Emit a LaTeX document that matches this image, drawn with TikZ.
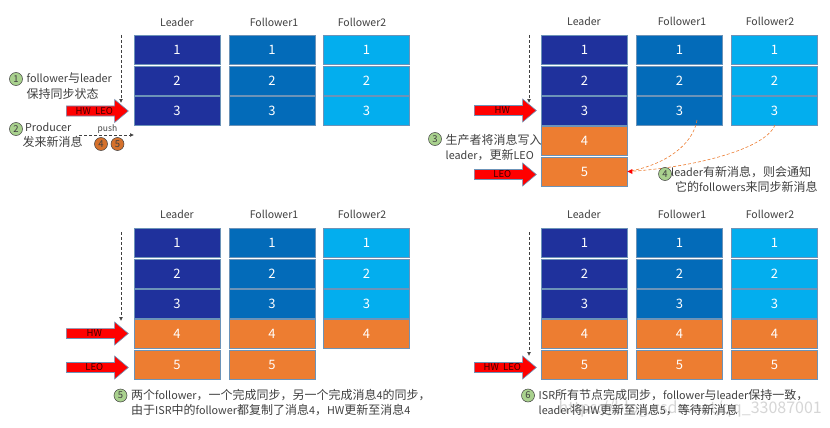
\documentclass[tikz,border=0pt]{standalone}
\usepackage{fontspec}
\setmainfont{Noto Sans CJK SC}
\newfontfamily\zhfont{Noto Sans CJK SC}
\newcommand{\zh}[1]{{\fontsize{12}{14}\zhfont #1}}
\usetikzlibrary{shapes.arrows, arrows.meta}
\definecolor{leadercol}{HTML}{1F319C}
\definecolor{followacol}{HTML}{036BB9}
\definecolor{followbcol}{HTML}{03AEEE}
\definecolor{newcol}{HTML}{ED7D31}
\definecolor{edgecol}{HTML}{6C93B8}
\definecolor{stepcol}{HTML}{A9D18E}
\definecolor{inkcol}{HTML}{404040}
\tikzset{
    msgbox/.style={draw=edgecol, line width=0.6pt, minimum width=86pt, minimum height=29pt, inner sep=0pt, text=white, font=\fontsize{13}{13}\selectfont},
    colhead/.style={text=inkcol, font=\fontsize{10.5}{12}\selectfont},
    notetext/.style={text=inkcol, align=left, anchor=west, inner sep=0pt, font=\fontsize{10.8}{15.5}\selectfont},
    markarrow/.style={single arrow, anchor=tail, draw=edgecol, fill=red, line width=0.6pt, minimum width=23pt, minimum height=62pt, single arrow head extend=5pt, single arrow tip angle=80, inner sep=0pt, text=black!75!red, font=\fontsize{9.5}{10}\selectfont},
    stepnum/.style={circle, draw=inkcol, fill=stepcol, line width=0.5pt, minimum size=13pt, inner sep=0pt, text=inkcol, font=\fontsize{9.5}{10}\selectfont},
    msgnum/.style={circle, draw=inkcol, fill=newcol!90!black, line width=0.5pt, minimum size=13pt, inner sep=0pt, text=inkcol, font=\fontsize{9.5}{10}\selectfont},
    topdash/.style={densely dashed, draw=inkcol, line width=0.7pt, -{Latex[length=4pt,width=4pt]}},
    notifyline/.style={densely dashed, draw=newcol, line width=0.6pt}
}
\begin{document}
\begin{tikzpicture}[x=1pt, y=-1pt]
    \useasboundingbox (0,0) rectangle (830,428);
    \fill[white] (0,0) rectangle (830,428);

    % Watermark
    \node[text=black!16, inner sep=0pt, font=\fontsize{16}{18}\selectfont, anchor=east] (mark) at (822,409.5) {https://blog.csdn.net/qq\_33087001};

    % Panel 1 - in sync
    \node[colhead] (aLead) at (177,22) {Leader};
    \node[colhead] (aFola) at (274,22) {Follower1};
    \node[colhead] (aFolb) at (362,22) {Follower2};
    \foreach \n/\y in {1/50, 2/81, 3/110.5} {
        \node[msgbox, fill=leadercol] (aL\n) at (177,\y) {\n};
        \node[msgbox, fill=followacol] (aA\n) at (272,\y) {\n};
        \node[msgbox, fill=followbcol] (aB\n) at (366.5,\y) {\n};
    }
    \node[markarrow] (aMark) at (66,111) {HW\ \ LEO};
    \coordinate (aTop) at (121,35);
    \coordinate (aEnd) at (121,103);
    \draw[topdash] (aTop) -- (aEnd);
    \node[stepnum] (aStepa) at (16,79) {1};
    \node[notetext] (aNotea) at (26.5,86) {follower\zh{与}leader\\\zh{保持同步状态}};
    \node[stepnum] (aStepb) at (16,129) {2};
    \node[notetext] (aNoteb) at (22.5,135) {\ Producer\\\zh{发来新消息}};
    \coordinate (aPusha) at (79,135);
    \coordinate (aPushb) at (134,135);
    \draw[topdash] (aPusha) -- (aPushb);
    \node[font=\fontsize{8.5}{9}\selectfont, text=inkcol, inner sep=0pt] (aPush) at (107.5,129) {push};
    \node[msgnum] (aNewa) at (101,144) {4};
    \node[msgnum] (aNewb) at (117.5,144) {5};

    % Panel 2 - new messages on the leader
    \node[colhead] (bLead) at (584,21) {Leader};
    \node[colhead] (bFola) at (682,21) {Follower1};
    \node[colhead] (bFolb) at (770,21) {Follower2};
    \foreach \n/\y in {1/50, 2/80.5, 3/110.5} {
        \node[msgbox, fill=leadercol] (bL\n) at (584.5,\y) {\n};
        \node[msgbox, fill=followacol] (bA\n) at (679.5,\y) {\n};
        \node[msgbox, fill=followbcol] (bB\n) at (774.5,\y) {\n};
    }
    \foreach \n/\y in {4/141, 5/171.5} {
        \node[msgbox, fill=newcol] (bL\n) at (584.5,\y) {\n};
    }
    \node[markarrow] (bHw) at (474,110.5) {HW};
    \node[markarrow] (bLeo) at (474,174.5) {LEO};
    \coordinate (bTop) at (529,35);
    \coordinate (bEnd) at (529,103);
    \draw[topdash] (bTop) -- (bEnd);
    \node[stepnum] (bStepa) at (435,139) {3};
    \node[notetext] (bNotea) at (445.5,147.5) {\zh{生产者将消息写入}\\leader\zh{，更新}LEO};
    \coordinate (bFroma) at (697,120);
    \coordinate (bFromb) at (775,125);
    \draw[notifyline] (bFroma) .. controls (693,145) and (665,165) .. (bL5.east);
    \draw[notifyline] (bFromb) .. controls (765,150) and (690,168) .. (bL5.east);
    \fill[red] (bL5.east) ++(-0.5,0) -- ++(5,-2.5) -- ++(0,5) -- cycle;
    \node[stepnum] (bStepb) at (665,174) {4};
    \node[notetext] (bNoteb) at (671,179.5) {leader\zh{有新消息，则会通知}\\\hspace*{4pt}\zh{它的}followers\zh{来同步新消息}};

    % Panel 3 - one follower done
    \node[colhead] (cLead) at (177,214.5) {Leader};
    \node[colhead] (cFola) at (274,214.5) {Follower1};
    \node[colhead] (cFolb) at (362,214.5) {Follower2};
    \foreach \n/\y in {1/243, 2/273.5, 3/303.5} {
        \node[msgbox, fill=leadercol] (cL\n) at (177,\y) {\n};
        \node[msgbox, fill=followacol] (cA\n) at (272,\y) {\n};
        \node[msgbox, fill=followbcol] (cB\n) at (366.5,\y) {\n};
    }
    \node[msgbox, fill=newcol] (cL4) at (177,334) {4};
    \node[msgbox, fill=newcol] (cA4) at (272,334) {4};
    \node[msgbox, fill=newcol] (cB4) at (366.5,334) {4};
    \node[msgbox, fill=newcol] (cL5) at (177,364.5) {5};
    \node[msgbox, fill=newcol] (cA5) at (272,364.5) {5};
    \node[markarrow] (cHw) at (66,333.5) {HW};
    \node[markarrow] (cLeo) at (66,367.5) {LEO};
    \coordinate (cTop) at (121,232);
    \coordinate (cEnd) at (121,321);
    \draw[topdash] (cTop) -- (cEnd);
    \node[stepnum] (cStep) at (120.5,395.5) {5};
    \node[notetext] (cNote) at (131,402.5) {\zh{两个}follower\zh{，一个完成同步，另一个完成消息}4\zh{的同步，}\\\zh{由于}ISR\zh{中的}follower\zh{都复制了消息}4\zh{，}HW\zh{更新至消息}4};

    % Panel 4 - all in sync again
    \node[colhead] (dLead) at (584,214.5) {Leader};
    \node[colhead] (dFola) at (682,214.5) {Follower1};
    \node[colhead] (dFolb) at (770,214.5) {Follower2};
    \foreach \n/\y in {1/243, 2/273.5, 3/303.5} {
        \node[msgbox, fill=leadercol] (dL\n) at (584.5,\y) {\n};
        \node[msgbox, fill=followacol] (dA\n) at (679.5,\y) {\n};
        \node[msgbox, fill=followbcol] (dB\n) at (774.5,\y) {\n};
    }
    \foreach \n/\y in {4/334, 5/364.5} {
        \node[msgbox, fill=newcol] (dL\n) at (584.5,\y) {\n};
        \node[msgbox, fill=newcol] (dA\n) at (679.5,\y) {\n};
        \node[msgbox, fill=newcol] (dB\n) at (774.5,\y) {\n};
    }
    \node[markarrow] (dMark) at (474,367.5) {HW\ \ LEO};
    \coordinate (dTop) at (529,232);
    \coordinate (dEnd) at (529,356);
    \draw[topdash] (dTop) -- (dEnd);
    \node[stepnum] (dStep) at (528,395.5) {6};
    \node[notetext] (dNote) at (538.5,402.5) {ISR\zh{所有节点完成同步，}follower\zh{与}leader\zh{保持一致，}\\leader\zh{将}HW\zh{更新至消息}5\zh{，等待新消息}};
\end{tikzpicture}
\end{document}
